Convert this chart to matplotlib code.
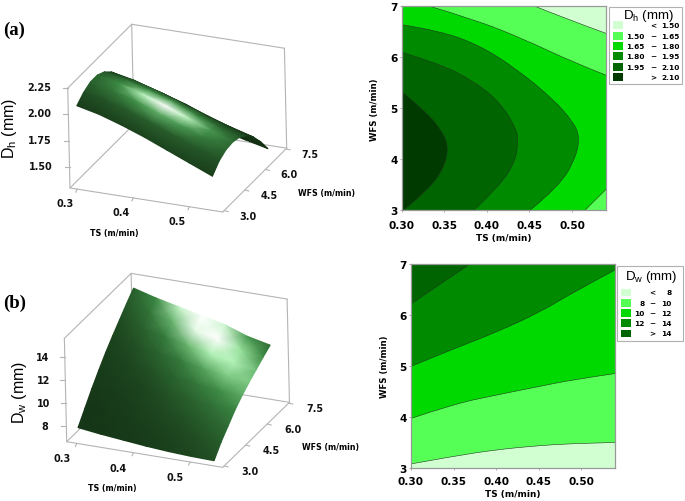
import numpy as np
import matplotlib
matplotlib.use('Agg')
import matplotlib.pyplot as plt
from matplotlib.colors import LinearSegmentedColormap
from matplotlib.patches import PathPatch, Rectangle
from matplotlib.path import Path
from mpl_toolkits.mplot3d import proj3d

W, H = 685, 502

# surface grids, rows = TS, columns = WFS
ts_grid = [0.30, 0.34, 0.38, 0.42, 0.46, 0.50, 0.54]
wfs_grid = [3.0, 3.5, 4.0, 4.5, 5.0, 5.5, 6.0, 6.5, 7.0]
dh_surface = [
    [2.08, 2.14, 2.175, 2.175, 2.14, 2.075, 1.975, 1.84, 1.675],
    [2.03, 2.095, 2.125, 2.125, 2.095, 2.03, 1.93, 1.80, 1.63],
    [1.96, 2.03, 2.06, 2.06, 2.03, 1.965, 1.87, 1.74, 1.575],
    [1.88, 1.95, 1.98, 1.985, 1.955, 1.89, 1.80, 1.67, 1.51],
    [1.79, 1.865, 1.895, 1.90, 1.87, 1.81, 1.72, 1.60, 1.45],
    [1.70, 1.78, 1.815, 1.82, 1.79, 1.735, 1.65, 1.54, 1.40],
    [1.61, 1.69, 1.73, 1.74, 1.72, 1.67, 1.59, 1.48, 1.35],
]
dw_surface = [
    [7.85, 8.95, 10.05, 11.05, 12.0, 12.85, 13.65, 14.45, 15.2],
    [7.6, 8.6, 9.65, 10.6, 11.5, 12.4, 13.2, 13.95, 14.65],
    [7.4, 8.35, 9.35, 10.3, 11.15, 12.0, 12.8, 13.5, 14.2],
    [7.2, 8.2, 9.1, 10.0, 10.85, 11.65, 12.35, 13.1, 13.75],
    [7.05, 8.05, 8.95, 9.8, 10.55, 11.25, 11.95, 12.65, 13.3],
    [6.95, 7.95, 8.8, 9.6, 10.3, 10.95, 11.5, 12.05, 12.6],
    [6.9, 7.9, 8.7, 9.5, 10.15, 10.7, 11.2, 11.7, 12.15],
]

# contour boundaries of Dh (TS, WFS)
dh_150 = ([0.4566, 0.4938, 0.54], [7.0, 6.75, 6.47])
dh_165_top = ([0.333, 0.384, 0.443, 0.5016, 0.54], [7.0, 6.75, 6.36, 5.90, 5.65])
dh_165_bot = ([0.54, 0.5153], [3.41, 3.0])
dh_180 = ([0.30, 0.345, 0.392, 0.435, 0.478, 0.5016, 0.5087, 0.5055, 0.486, 0.4507],
          [6.64, 6.52, 6.23, 5.77, 5.18, 4.73, 4.46, 4.07, 3.48, 3.0])
dh_195 = ([0.30, 0.345, 0.384, 0.4155, 0.435, 0.437, 0.433, 0.415, 0.385],
          [6.10, 5.87, 5.54, 5.12, 4.59, 4.33, 3.94, 3.48, 3.0])
dh_210 = ([0.30, 0.3294, 0.347, 0.3548, 0.351, 0.333, 0.302],
          [5.33, 4.92, 4.56, 4.27, 3.88, 3.42, 3.0])

# contour boundaries of Dw (TS, WFS)
dw_ts = [0.30, 0.3497, 0.4006, 0.4515, 0.4907, 0.54]
dw_8 = [3.08, 3.23, 3.36, 3.44, 3.48, 3.50]
dw_10 = [3.97, 4.25, 4.43, 4.60, 4.73, 4.85]
dw_12 = [4.99, 5.33, 5.66, 6.05, 6.44, 6.88]
dw_14 = ([0.30, 0.334, 0.370], [6.21, 6.60, 7.0])

greens = ['#d2ffd2', '#55ff55', '#00d900', '#008a00', '#006400', '#003a00']
dh_legend = [('', '<', '1.50'), ('1.50', '−', '1.65'), ('1.65', '−', '1.80'),
             ('1.80', '−', '1.95'), ('1.95', '−', '2.10'), ('', '>', '2.10')]
dw_legend = [('', '<', '8'), ('8', '−', '10'), ('10', '−', '12'),
             ('12', '−', '14'), ('', '>', '14')]

shade_cmap = LinearSegmentedColormap.from_list(
    'shade', [(0, '#133013'), (0.45, '#3f8f47'), (0.75, '#a5eeaa'), (1, '#ffffff')])

fig = plt.figure(figsize=(W / 100, H / 100), dpi=100)
over = fig.add_axes([0, 0, 1, 1], zorder=5)
over.set_xlim(0, W)
over.set_ylim(H, 0)
over.axis('off')
over.patch.set_visible(False)


def to_px(ax, x, y, z):
    x, y, z = np.broadcast_arrays(x, y, z)
    xs, ys, _ = proj3d.proj_transform(x.ravel().astype(float), y.ravel().astype(float),
                                      z.ravel().astype(float), ax.get_proj())
    pts = ax.transData.transform(np.column_stack([xs, ys]))
    return pts[:, 0].reshape(x.shape), H - pts[:, 1].reshape(x.shape)


def surface_panel(lims, aspect, view, start, end, z_vals, hl, light_d, tk):
    xlim, ylim, zlim = lims
    ax = fig.add_axes([0.1, 0.1, 0.4, 0.4 * W / H], projection='3d', proj_type='ortho')
    ax.set_axis_off()
    ax.view_init(elev=view[0], azim=view[1], roll=view[2])
    ax.set_xlim3d(*xlim)
    ax.set_ylim3d(*ylim)
    ax.set_zlim3d(*zlim)

    # scale and move the box so its front edge lands where it should
    ax.set_box_aspect(aspect, zoom=1)
    ax.apply_aspect()
    px, py = to_px(ax, [xlim[0], xlim[1]], ylim[0], zlim[0])
    zoom = np.hypot(end[0] - start[0], end[1] - start[1]) / np.hypot(px[1] - px[0], py[1] - py[0])
    ax.set_box_aspect(aspect, zoom=zoom)
    ax.apply_aspect()
    px, py = to_px(ax, xlim[0], ylim[0], zlim[0])
    pos = ax.get_position()
    ax.set_position([pos.x0 + (start[0] - px) / W, pos.y0 - (start[1] - py) / H, pos.width, pos.height])
    ax.apply_aspect()

    # box edges
    x0, x1 = xlim
    y0, y1 = ylim
    z0, z1 = zlim
    edges = [((x0, y0, z0), (x1, y0, z0)), ((x1, y0, z0), (x1, y1, z0)), ((x1, y1, z0), (x0, y1, z0)),
             ((x0, y1, z0), (x0, y0, z0)), ((x0, y0, z0), (x0, y0, z1)), ((x0, y1, z0), (x0, y1, z1)),
             ((x1, y1, z0), (x1, y1, z1)), ((x0, y0, z1), (x0, y1, z1)), ((x0, y1, z1), (x1, y1, z1))]
    for a, b in edges:
        ex, ey = to_px(ax, [a[0], b[0]], [a[1], b[1]], [a[2], b[2]])
        over.plot(ex, ey, color='#b4b4b4', lw=0.8, zorder=1, solid_capstyle='round')

    # ticks and tick labels
    for v, s in zip(tk['x'], tk['xl']):
        ex, ey = to_px(ax, v, y0, z0)
        over.plot([ex, ex - 1.5], [ey, ey + 3], color='#b4b4b4', lw=0.8, zorder=1)
        over.text(ex + tk['xo'][0], ey + tk['xo'][1], s, **tick_font)
    for v, s in zip(tk['y'], tk['yl']):
        ex, ey = to_px(ax, x1, v, z0)
        over.plot([ex, ex + 4], [ey, ey + 1], color='#b4b4b4', lw=0.8, zorder=1)
        over.text(ex + tk['yo'][0], ey + tk['yo'][1], s, **tick_font)
    for v, s in zip(tk['z'], tk['zl']):
        ex, ey = to_px(ax, x0, y0, v)
        over.plot([ex, ex - 5], [ey, ey], color='#b4b4b4', lw=0.8, zorder=1)
        over.text(ex + tk['zo'][0], ey + tk['zo'][1], s, **tick_font)

    # lit surface, far rows first so the near ones cover them
    ts = np.array(ts_grid)
    wfs = np.array(wfs_grid)
    zz = np.array(z_vals)
    bx = (ts - x0) / (x1 - x0) * aspect[0]
    by = (wfs - y0) / (y1 - y0) * aspect[1]
    bz = (zz - z0) / (z1 - z0) * aspect[2]
    bxx, byy = np.meshgrid(bx, by, indexing='ij')
    # normals from a quadratic fit, only for the shading: the read values are too rough for it
    u, v = bxx.ravel(), byy.ravel()
    c = np.linalg.lstsq(np.column_stack([np.ones_like(u), u, v, u * u, u * v, v * v]), bz.ravel(), rcond=None)[0]
    dzx = c[1] + 2 * c[3] * bxx + c[4] * byy
    dzy = c[2] + c[4] * bxx + 2 * c[5] * byy
    n = np.dstack([-dzx, -dzy, np.ones_like(bz)])
    n /= np.linalg.norm(n, axis=2, keepdims=True)
    el, az = np.radians(view[0]), np.radians(view[1])
    eye = np.array([np.cos(el) * np.cos(az), np.cos(el) * np.sin(az), np.sin(el)])
    p = np.dstack([bxx, byy, bz])
    i, j = ts_grid.index(hl[0]), wfs_grid.index(hl[1])
    ldir = 2 * np.dot(n[i, j], eye) * n[i, j] - eye
    l = p[i, j] + light_d * ldir - p
    l /= np.linalg.norm(l, axis=2, keepdims=True)
    h = l + eye
    h /= np.linalg.norm(h, axis=2, keepdims=True)
    nh = np.clip(np.sum(n * h, axis=2), 0, 1)
    shade = np.clip(hl[6] + hl[2] * nh ** hl[3] + hl[4] * nh ** hl[5], 0, 1)

    tsm, wm = np.meshgrid(ts, wfs, indexing='ij')
    sx, sy = to_px(ax, tsm, wm, zz)
    over.pcolormesh(sx.T[::-1], sy.T[::-1], shade.T[::-1], shading='gouraud',
                    cmap=shade_cmap, vmin=0, vmax=1, zorder=2)
    return ax


def smooth(xs, ys):
    # quadratic curves through the midpoints, so the boundaries do not look faceted
    pts = np.column_stack([xs, ys])
    if len(pts) < 3:
        return pts.tolist(), [Path.LINETO] * len(pts)
    verts = [pts[0]]
    codes = [Path.LINETO]
    for k in range(1, len(pts) - 1):
        end = pts[k + 1] if k == len(pts) - 2 else (pts[k] + pts[k + 1]) / 2
        verts += [pts[k], end]
        codes += [Path.CURVE3, Path.CURVE3]
    return verts, codes


def region(ax, curves_and_corners, color):
    verts, codes = [], []
    for part in curves_and_corners:
        v, c = smooth(*part)
        verts += list(v)
        codes += c
    codes[0] = Path.MOVETO
    verts.append(verts[0])
    codes.append(Path.CLOSEPOLY)
    ax.add_patch(PathPatch(Path(verts, codes), fc=color, ec='none', lw=0))


def boundary(ax, xs, ys):
    v, c = smooth(xs, ys)
    c[0] = Path.MOVETO
    ax.add_patch(PathPatch(Path(v, c), fc='none', ec='#1c3a1c', lw=0.4))


def contour_axes(rect_px, ylabel_x, pad):
    x0, y0, x1, y1 = rect_px
    ax = fig.add_axes([x0 / W, 1 - y1 / H, (x1 - x0) / W, (y1 - y0) / H])
    ax.set_xlim(0.30, 0.54)
    ax.set_ylim(3, 7)
    ax.set_xticks([0.30, 0.35, 0.40, 0.45, 0.50], ['0.30', '0.35', '0.40', '0.45', '0.50'])
    ax.set_yticks([3, 4, 5, 6, 7], ['3', '4', '5', '6', '7'])
    ax.tick_params(length=1.5, width=0.5, color='#888888', labelsize=7.6)
    ax.tick_params(axis='x', pad=pad)
    ax.tick_params(axis='y', pad=1.5)
    for t in ax.get_xticklabels() + ax.get_yticklabels():
        t.set_fontweight('bold')
    for s in ax.spines.values():
        s.set_color('#999999')
        s.set_linewidth(0.9)
    ax.set_xlabel('TS (m/min)', fontsize=6.4, fontweight='bold', labelpad=2)
    over.text(ylabel_x, (y0 + y1) / 2, 'WFS (m/min)', fontsize=6.2, fontweight='bold',
              rotation=90, ha='center', va='center')
    return ax


def legend_box(box, title, title_x, title_y, rows, row_y, colors, swatch_x, cols):
    x0, y0, x1, y1 = box
    over.add_patch(Rectangle((x0, y0), x1 - x0, y1 - y0, fc='white', ec='#b0b0b0', lw=0.8, zorder=3))
    over.text(title_x, title_y, title, fontsize=9.5, family='Liberation Sans', ha='center', va='center', zorder=4)
    for row, y, c in zip(rows, row_y, colors):
        over.add_patch(Rectangle((swatch_x, y - 3.8), 10.5, 7.6, fc=c, ec='none', zorder=4))
        over.text(cols[0], y, row[0], ha='right', va='center', fontsize=5.3, fontweight='bold', zorder=4)
        over.text(cols[1], y, row[1], ha='center', va='center', fontsize=5.3, fontweight='bold', zorder=4)
        over.text(cols[2], y, row[2], ha='right', va='center', fontsize=5.3, fontweight='bold', zorder=4)


tick_font = dict(fontsize=6.9, fontweight='bold', ha='center', va='center', zorder=3, color='#111111')

# (a) surface
surface_panel(((0.287, 0.5595), (2.9, 7.55), (1.30, 2.25)), (1, 0.988, 0.662), (24.5, -66.5, 1.3),
              (70, 189), (222.7, 213.3), dh_surface, (0.42, 4.5, 0.5, 10, 0.55, 60, 0.0), 1.6,
              dict(x=[0.3, 0.4, 0.5], xl=['0.3', '0.4', '0.5'], xo=(-12, 14),
                   y=[3.0, 4.5, 6.0, 7.5], yl=['3.0', '4.5', '6.0', '7.5'], yo=(24, 5),
                   z=[1.5, 1.75, 2.0, 2.25], zl=['1.50', '1.75', '2.00', '2.25'], zo=(-29, -1)))
# (b) surface
surface_panel(((0.282, 0.5576), (2.9, 7.55), (6.59, 15.67)), (1, 0.977, 0.668), (24.7, -65.8, 1.3),
              (66.7, 442.7), (222.7, 468.3), dw_surface, (0.42, 7.0, 0.6, 22, 0.55, 110, 0.03), 0.8,
              dict(x=[0.3, 0.4, 0.5], xl=['0.3', '0.4', '0.5'], xo=(-15, 15),
                   y=[3.0, 4.5, 6.0, 7.5], yl=['3.0', '4.5', '6.0', '7.5'], yo=(26, 5),
                   z=[8, 10, 12, 14], zl=['8', '10', '12', '14'], zo=(-22, 0)))

# (a) contour
ax = contour_axes((401.7, 7.3, 606, 211.3), 375, 5.5)
ax.set_facecolor(greens[1])
region(ax, [dh_150, ([0.54], [7.0])], greens[0])
region(ax, [([0.30], [7.0]), dh_165_top, dh_165_bot, ([0.30], [3.0])], greens[2])
region(ax, [dh_180, ([0.30], [3.0])], greens[3])
region(ax, [dh_195, ([0.30], [3.0])], greens[4])
region(ax, [dh_210, ([0.30], [3.0])], greens[5])
for xs, ys in [dh_150, dh_165_top, dh_165_bot, dh_180, dh_195, dh_210]:
    boundary(ax, xs, ys)

# (b) contour
ax = contour_axes((411, 264.7, 615.3, 469), 385, 4.5)
ax.set_facecolor(greens[0])
region(ax, [(dw_ts, dw_8), ([0.54], [7.0]), ([0.30], [7.0])], greens[1])
region(ax, [(dw_ts, dw_10), ([0.54], [7.0]), ([0.30], [7.0])], greens[2])
region(ax, [(dw_ts, dw_12), ([0.54], [7.0]), ([0.30], [7.0])], greens[3])
region(ax, [dw_14, ([0.30], [7.0])], greens[4])
for ys in [dw_8, dw_10, dw_12]:
    boundary(ax, dw_ts, ys)
boundary(ax, *dw_14)

# legends
legend_box((609, 8, 682, 85), 'D$_{\\mathregular{h}}$ (mm)', 648, 15.5, dh_legend,
           [26, 36.7, 47, 57, 68, 78], greens, 612.7, (645, 653, 679.3))
legend_box((617.3, 266.7, 683.3, 341.7), 'D$_{\\mathregular{w}}$ (mm)', 651, 277, dw_legend,
           [293.3, 303.7, 313.7, 324, 334.3], greens[:5], 621, (645, 652, 671.7))

# labels on the 3d panels
over.text(3, 30, '(a)', fontsize=13.5, fontweight='bold', family='Liberation Serif', va='center')
over.text(3, 303, '(b)', fontsize=13.5, fontweight='bold', family='Liberation Serif', va='center')
over.text(9.5, 128, 'D$_{\\mathregular{h}}$ (mm)', fontsize=11.5, family='Liberation Sans',
          rotation=90, ha='center', va='center')
over.text(20, 392, 'D$_{\\mathregular{w}}$ (mm)', fontsize=11.5, family='Liberation Sans',
          rotation=90, ha='center', va='center')
over.text(114, 234, 'TS (m/min)', fontsize=5.7, fontweight='bold', ha='center', va='center')
over.text(112, 489, 'TS (m/min)', fontsize=5.7, fontweight='bold', ha='center', va='center')
over.text(327, 194, 'WFS (m/min)', fontsize=5.7, fontweight='bold', ha='center', va='center')
over.text(331, 448, 'WFS (m/min)', fontsize=5.7, fontweight='bold', ha='center', va='center')

fig.savefig('out.png', dpi=100)
